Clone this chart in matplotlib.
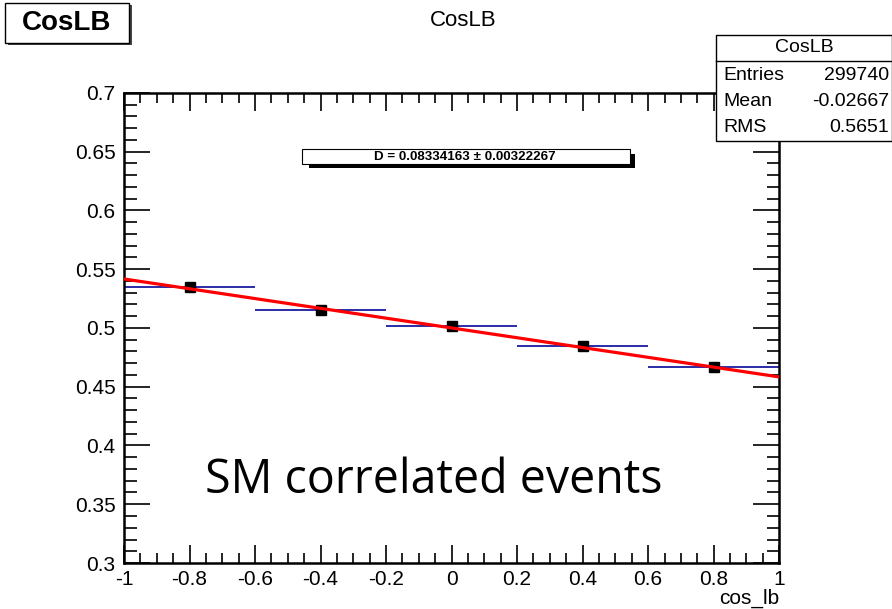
import numpy as np
import matplotlib.pyplot as plt
from matplotlib.patches import Rectangle
from matplotlib.ticker import MultipleLocator

# datos del histograma (bins de 0.4 en cos_lb)
bin_edges = [-1.0, -0.6, -0.2, 0.2, 0.6, 1.0]
bin_centers = [-0.8, -0.4, 0.0, 0.4, 0.8]
valores = [0.5349, 0.5153, 0.5017, 0.4847, 0.4668]
errores = [0.002, 0.002, 0.002, 0.002, 0.002]

# parametro del ajuste f(x) = 0.5*(1 - D*x)
D = 0.08334163
D_err = 0.00322267

# caja de estadisticas
stats_nombres = ['Entries', 'Mean', 'RMS']
stats_valores = ['299740', '-0.02667', '0.5651']

plt.rcParams['font.family'] = ['Liberation Sans', 'DejaVu Sans']

fig = plt.figure(figsize=(8.92, 6.09), dpi=100)
ax = fig.add_axes([0.139, 0.0755, 0.7345, 0.772])

xerr = [(bin_edges[i+1] - bin_edges[i]) / 2 for i in range(len(bin_centers))]
ax.errorbar(bin_centers, valores, xerr=xerr, yerr=errores, fmt='none',
            ecolor='#1a1aa0', elinewidth=1.3, zorder=2)
ax.plot(bin_centers, valores, 's', color='black', markersize=6.5, zorder=3)

xf = np.linspace(-1, 1, 200)
ax.plot(xf, 0.5 * (1 - D * xf), color='#ff0000', lw=2.3, zorder=4)

ax.set_xlim(-1, 1)
ax.set_ylim(0.3, 0.7)
ax.xaxis.set_major_locator(MultipleLocator(0.2))
ax.xaxis.set_minor_locator(MultipleLocator(0.05))
ax.yaxis.set_major_locator(MultipleLocator(0.05))
ax.yaxis.set_minor_locator(MultipleLocator(0.01))
ax.xaxis.set_major_formatter(plt.FuncFormatter(lambda v, p: '%g' % round(v, 2)))
ax.yaxis.set_major_formatter(plt.FuncFormatter(lambda v, p: '%g' % round(v, 2)))
ax.tick_params(which='both', direction='in', top=True, right=True, labelsize=15, width=1.2)
ax.tick_params(axis='x', which='major', length=13, pad=5)
ax.tick_params(axis='x', which='minor', length=7)
ax.tick_params(axis='y', which='major', length=19, pad=6)
ax.tick_params(axis='y', which='minor', length=9)
for s in ax.spines.values():
    s.set_linewidth(1.8)

ax.set_xlabel('cos_lb', fontsize=15, loc='right', labelpad=0)

ax.text(-0.053, 0.3596, 'SM correlated events', fontsize=33.5, family=['Open Sans', 'DejaVu Sans'],
        ha='center', va='baseline')

# titulo
fig.text(0.519, 0.967, 'CosLB', fontsize=16, ha='center', va='center')

# caja arriba a la izquierda
fig.patches.append(Rectangle((8/892, 1 - 45/609), 124/892, 40/609, transform=fig.transFigure,
                             facecolor='#444444', edgecolor='none', zorder=5))
fig.patches.append(Rectangle((5/892, 1 - 43/609), 124/892, 40/609, transform=fig.transFigure,
                             facecolor='white', edgecolor='black', lw=1, zorder=6))
fig.text(67/892, 1 - 23/609, 'CosLB', fontsize=20, weight='bold', ha='center', va='center', zorder=7)

# caja del ajuste
fig.patches.append(Rectangle((309/892, 1 - 168/609), 326/892, 14/609, transform=fig.transFigure,
                             facecolor='black', edgecolor='none', zorder=5))
fig.patches.append(Rectangle((302/892, 1 - 164/609), 328/892, 15/609, transform=fig.transFigure,
                             facecolor='white', edgecolor='black', lw=0.8, zorder=6))
fig.text(465/892, 1 - 156.5/609, 'D = %.8f \u00b1 %.8f' % (D, D_err), fontsize=9.6, weight='bold',
         ha='center', va='center', zorder=7)

# caja de estadisticas
bx0, bx1, by0, by1 = 716, 892, 35, 141
fig.patches.append(Rectangle((bx0/892, 1 - by1/609), (bx1 - bx0)/892, (by1 - by0)/609,
                             transform=fig.transFigure, facecolor='white', edgecolor='black',
                             lw=1, zorder=5))
fig.lines.append(plt.Line2D([bx0/892, 1], [1 - 61/609, 1 - 61/609], transform=fig.transFigure,
                            color='black', lw=1, zorder=6))
fig.text(((bx0 + bx1) / 2)/892, 1 - 48/609, 'CosLB', fontsize=14, ha='center', va='center', zorder=7)
for i, (n, v) in enumerate(zip(stats_nombres, stats_valores)):
    yy = 1 - (75 + i * 26) / 609
    fig.text(723/892, yy, n, fontsize=14, ha='left', va='center', zorder=7)
    fig.text(889/892, yy, v, fontsize=14, ha='right', va='center', zorder=7)

fig.savefig('out.png', dpi=100)
